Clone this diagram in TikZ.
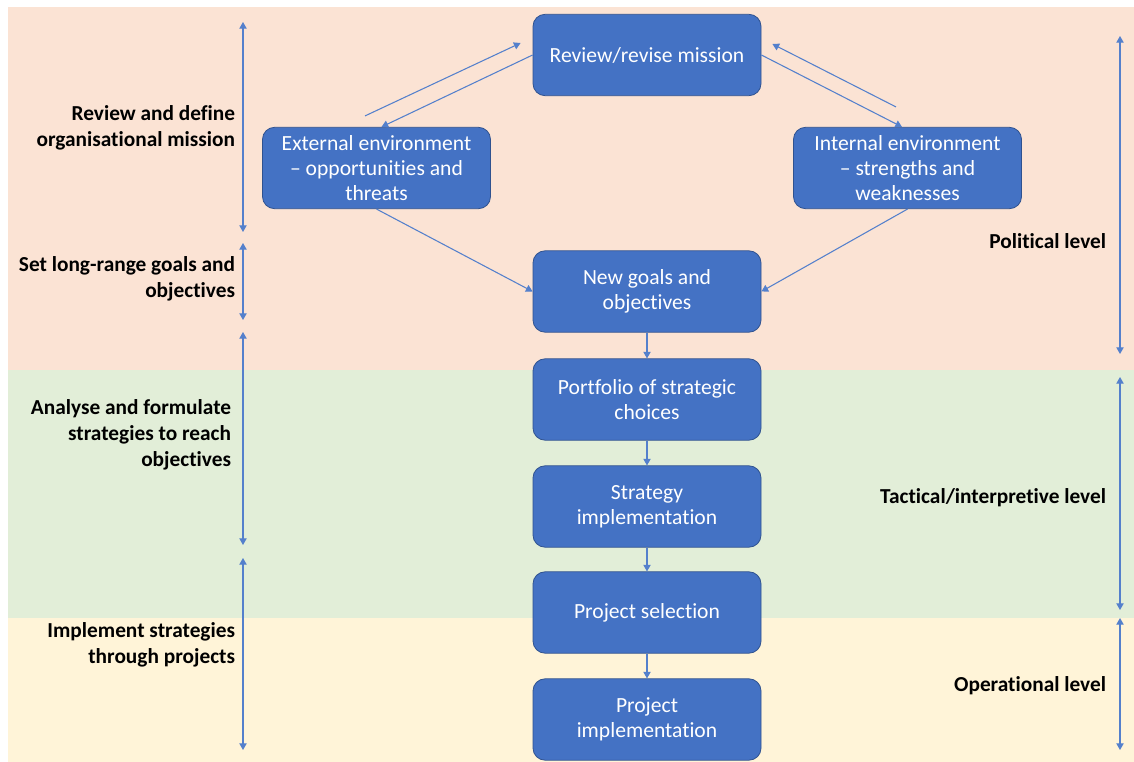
\documentclass[tikz,border=0pt]{standalone}
\usepackage{fontspec}
\setmainfont{Carlito}[Ligatures=NoCommon]
\usepackage{tikz}
\usetikzlibrary{arrows.meta,positioning,calc}
\definecolor{boxblue}{RGB}{68,114,196}
\definecolor{boxedge}{RGB}{47,82,143}
\definecolor{linkblue}{RGB}{84,128,204}
\definecolor{peachbg}{RGB}{251,227,212}
\definecolor{greenbg}{RGB}{226,238,216}
\definecolor{yellowbg}{RGB}{255,244,216}
\tikzset{
  base/.style={font=\fontsize{16.2}{18.9}\selectfont, align=center, inner sep=2pt},
  box/.style={base, rectangle, rounded corners=9pt, draw=boxedge, fill=boxblue, text=white, line width=0.6pt, minimum width=171pt, minimum height=61pt},
  lvl/.style={base, font=\bfseries\fontsize{16}{19.5}\selectfont, align=right, text=black, anchor=east},
  arr/.style={-{Triangle[length=5pt,width=5.5pt]}, line width=0.8pt, draw=linkblue},
  arr2/.style={arr, {Triangle[length=5pt,width=5.5pt]}-{Triangle[length=5pt,width=5.5pt]}},
}
\begin{document}
\begin{tikzpicture}[x=0.75pt,y=-0.75pt]
  \useasboundingbox (0,0) rectangle (1134,762);
  % bands
  \fill[peachbg] (8,7) rectangle (1134,370);
  \fill[greenbg] (8,370) rectangle (1134,618);
  \fill[yellowbg] (8,618) rectangle (1134,762);

  % boxes
  \node[box] (rev) at (647,55) {Review/revise mission};
  \node[box] (extenv) at (376.5,168) {External environment\\-- opportunities and\\threats};
  \node[box] (intenv) at (907.5,168) {Internal environment\\-- strengths and\\weaknesses};
  \node[box] (goals) at (647,291.5) {New goals and\\objectives};
  \node[box] (port) at (647,399.5) {Portfolio of strategic\\choices};
  \node[box] (strat) at (647,506.5) {Strategy\\implementation};
  \node[box] (psel) at (647,612.5) {Project selection};
  \node[box] (pimpl) at (647,719.5) {Project\\implementation};

  % mission loop
  \coordinate (e1) at ($(extenv.north)+(-11.5,-11)$);
  \coordinate (e2) at ($(rev.west)+(-12,-12)$);
  \coordinate (i1) at ($(intenv.north)+(-11.5,-20)$);
  \coordinate (i2) at ($(rev.east)+(11,-11)$);
  \draw[arr] (e1) -- (e2);
  \draw[arr] (rev.west) -- ($(extenv.north)+(5,0)$);
  \draw[arr] (i1) -- (i2);
  \draw[arr] (rev.east) -- ($(intenv.north)+(-5.5,0)$);
  \draw[arr] (extenv.south) -- (goals.west);
  \draw[arr] (intenv.south) -- (goals.east);
  \foreach \a/\b in {goals/port,port/strat,strat/psel,psel/pimpl}
    \draw[arr] (\a) -- (\b);

  % left spans
  \foreach \i/\t/\b in {1/22/232,2/243/320,3/332/545,4/558/750}{
    \coordinate (lt\i) at (243,\t);
    \coordinate (lb\i) at (243,\b);
    \draw[arr2] (lt\i) -- (lb\i);
  }
  % right spans
  \foreach \i/\t/\b in {1/36/354,2/377/610,3/618/750}{
    \coordinate (rt\i) at (1120,\t);
    \coordinate (rb\i) at (1120,\b);
    \draw[arr2] (rt\i) -- (rb\i);
  }

  % stage labels
  \node[lvl] (l1) at (238,128) {Review and define\\organisational mission};
  \node[lvl] (l2) at (238,278.5) {Set long-range goals and\\objectives};
  \node[lvl] (l3) at (234,435) {Analyse and formulate\\strategies to reach\\objectives};
  \node[lvl] (l4) at (238,645) {Implement strategies\\through projects};
  \node[lvl] (r1) at (1109,241) {Political level};
  \node[lvl] (r2) at (1109,498) {Tactical/interpretive level};
  \node[lvl] (r3) at (1109,686) {Operational level};
\end{tikzpicture}
\end{document}
